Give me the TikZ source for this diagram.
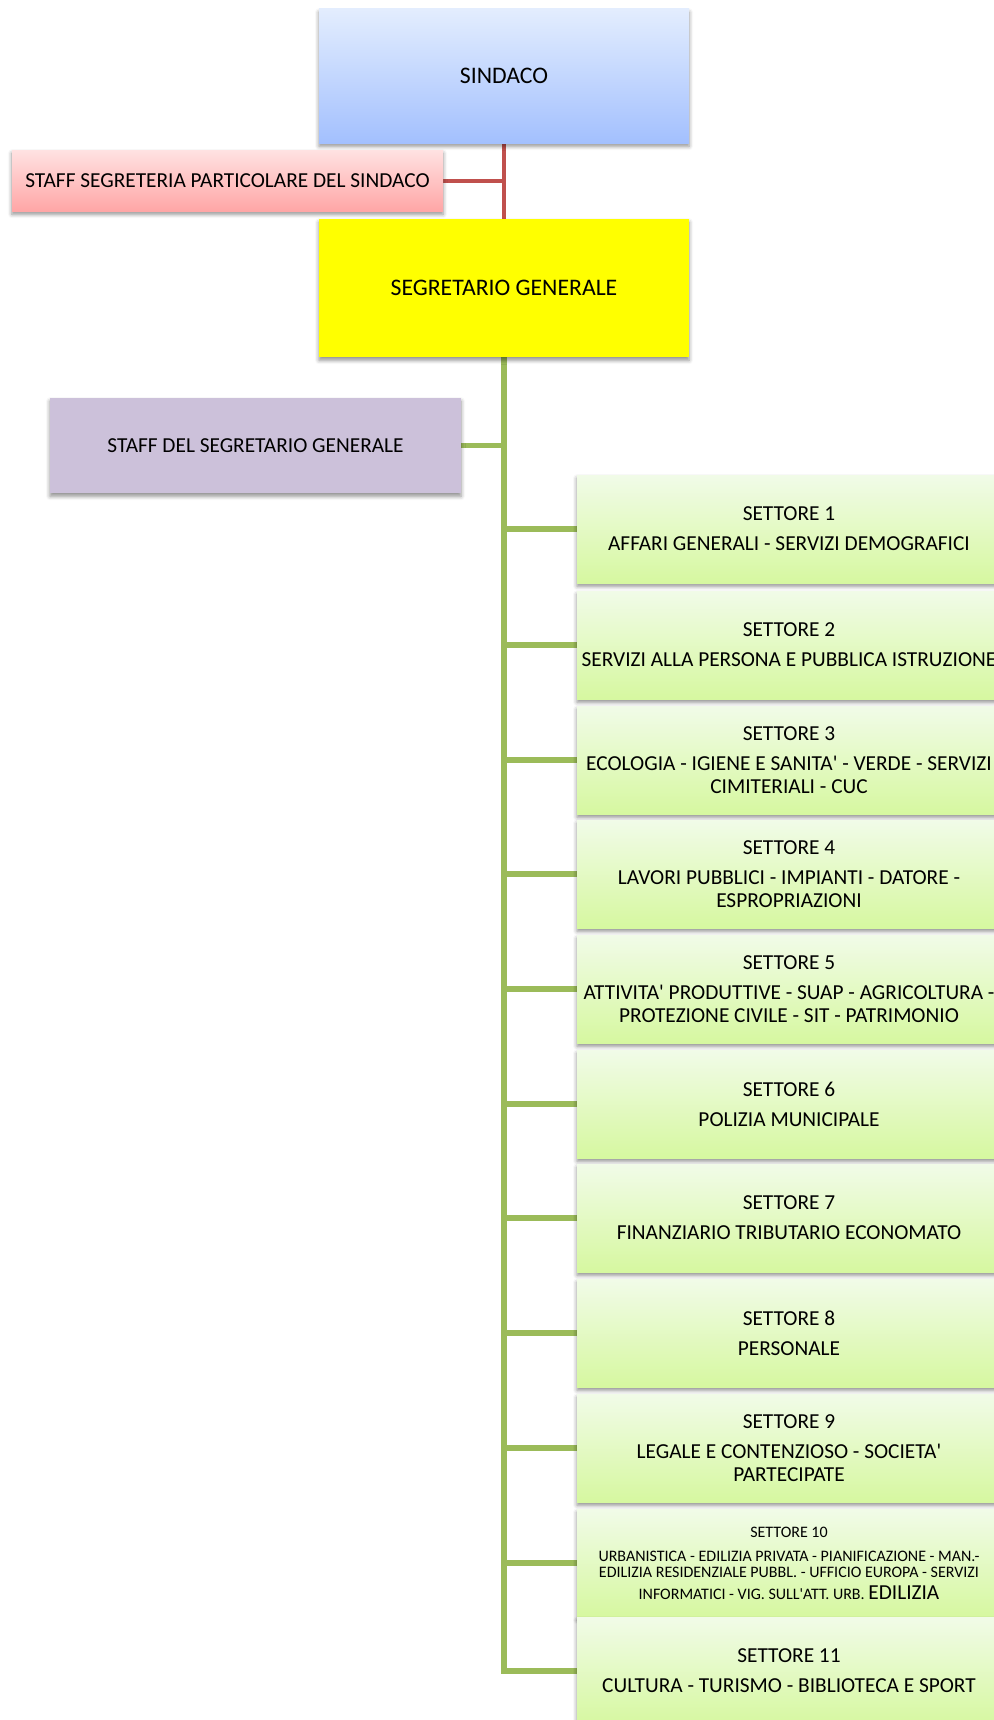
\documentclass[tikz,border=0pt]{standalone}
\usepackage{fontspec}
\setmainfont{Carlito}
\usetikzlibrary{shadows.blur,backgrounds}

% palette
\definecolor{sindTop}{RGB}{227,237,254}
\definecolor{sindBot}{RGB}{163,192,254}
\definecolor{staffTop}{RGB}{255,226,226}
\definecolor{staffBot}{RGB}{255,166,166}
\definecolor{segFill}{RGB}{255,255,0}
\definecolor{lilac}{RGB}{204,193,218}
\definecolor{settTop}{RGB}{241,251,232}
\definecolor{settBot}{RGB}{214,248,160}
\definecolor{linkRed}{RGB}{192,80,77}
\definecolor{linkGreen}{RGB}{155,187,89}

\newcommand{\ap}{\textquotesingle}

\begin{document}
\begin{tikzpicture}[x=0.75pt,y=-0.75pt,
  boxbase/.style={rectangle, inner sep=0pt, align=center, text=black,
    blur shadow={shadow xshift=0pt, shadow yshift=-2.4pt,
      shadow blur radius=3pt, shadow opacity=45}},
  bigtext/.style={font=\fontsize{17.8}{21}\selectfont},
  midtext/.style={font=\fontsize{16}{17.2}\selectfont},
  sett/.style={boxbase, midtext, top color=settTop, bottom color=settBot,
    minimum width=318pt, minimum height=81pt},
  redlink/.style={draw=linkRed, line width=3pt},
  greenlink/.style={draw=linkGreen, line width=4pt},
]
\useasboundingbox (0,0) rectangle (994,1720);

% top of the chart
\node[boxbase, bigtext, top color=sindTop, bottom color=sindBot,
      minimum width=277.5pt, minimum height=100.5pt] (sindaco) at (504,76) {SINDACO};
\node[boxbase, midtext, top color=staffTop, bottom color=staffBot,
      minimum width=323.25pt, minimum height=45.75pt] (staffsind) at (227.5,180.5)
      {STAFF SEGRETERIA PARTICOLARE DEL SINDACO};
\node[boxbase, bigtext, fill=segFill,
      minimum width=277.5pt, minimum height=103.5pt] (segr) at (504,288) {SEGRETARIO GENERALE};
\node[boxbase, midtext, fill=lilac,
      minimum width=308.25pt, minimum height=71.25pt] (staffsegr) at (255.5,445.5)
      {STAFF DEL SEGRETARIO GENERALE};

% sectors
\node[sett] (s1) at (789,529) {SETTORE 1\\[5.3pt]AFFARI GENERALI - SERVIZI DEMOGRAFICI};
\node[sett] (s2) at (789,645) {SETTORE 2\\[5.3pt]SERVIZI ALLA PERSONA E PUBBLICA ISTRUZIONE};
\node[sett] (s3) at (789,760) {SETTORE 3\\[5.3pt]ECOLOGIA - IGIENE E SANITA\ap{} - VERDE - SERVIZI\\CIMITERIALI - CUC};
\node[sett] (s4) at (789,874) {SETTORE 4\\[5.3pt]LAVORI PUBBLICI - IMPIANTI - DATORE -\\ESPROPRIAZIONI};
\node[sett] (s5) at (789,989) {SETTORE 5\\[5.3pt]ATTIVITA\ap{} PRODUTTIVE - SUAP - AGRICOLTURA -\\PROTEZIONE CIVILE - SIT - PATRIMONIO};
\node[sett] (s6) at (789,1104) {SETTORE 6\\[5.3pt]POLIZIA MUNICIPALE};
\node[sett] (s7) at (789,1218) {SETTORE 7\\[5.3pt]FINANZIARIO TRIBUTARIO ECONOMATO};
\node[sett] (s8) at (789,1333) {SETTORE 8\\[5.3pt]PERSONALE};
\node[sett] (s9) at (789,1448) {SETTORE 9\\[5.3pt]LEGALE E CONTENZIOSO - SOCIETA\ap\\PARTECIPATE};
\node[sett, font=\fontsize{12}{12.5}\selectfont] (s10) at (789,1563)
  {SETTORE 10\\[5.5pt]URBANISTICA - EDILIZIA PRIVATA - PIANIFICAZIONE - MAN.-\\
   EDILIZIA RESIDENZIALE PUBBL. - UFFICIO EUROPA - SERVIZI\\[3.5pt]
   INFORMATICI - VIG. SULL\ap ATT. URB. {\fontsize{16}{17}\selectfont EDILIZIA}};
\node[sett] (s11) at (789,1671) {SETTORE 11\\[5.3pt]CULTURA - TURISMO - BIBLIOTECA E SPORT};

% connectors, kept under the boxes
\begin{scope}[on background layer]
  \draw[redlink] (sindaco.south) -- (segr.north);
  \draw[redlink] (staffsind.east) -- (staffsind.east -| sindaco.south);
  \draw[greenlink] (segr.south) |- (s11.west);
  \draw[greenlink] (staffsegr.east) -- (staffsegr.east -| segr.south);
  \foreach \s in {s1,s2,s3,s4,s5,s6,s7,s8,s9,s10}
    \draw[greenlink] (segr.south |- \s.west) -- (\s.west);
\end{scope}
\end{tikzpicture}
\end{document}
